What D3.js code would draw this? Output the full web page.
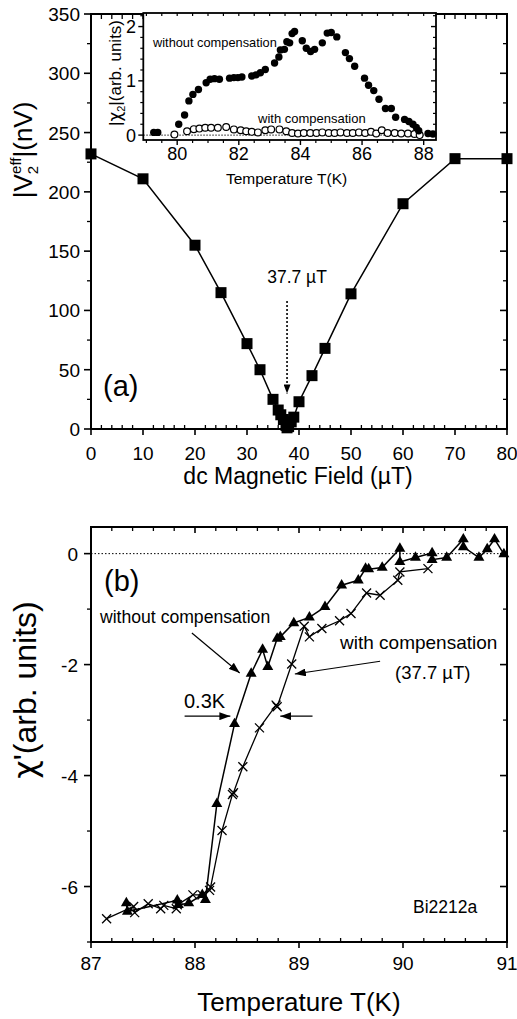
<!DOCTYPE html>
<html><head><meta charset="utf-8">
<script src="https://cdn.jsdelivr.net/npm/d3@7"></script>
<style>body{margin:0;background:#fff}svg{display:block;font-family:"Liberation Sans",Arial,Helvetica,sans-serif}</style>
</head><body><svg id="c" width="517" height="1019"></svg>
<script>
// ---------- DATA ----------
// panel (a): |V2eff| vs dc field
const fieldA = [0,10,20,25,30,32.5,35,36,36.5,37,37.5,37.7,38,38.5,39,40,42.5,45,50,60,70,80];
const v2A    = [232,211,155,115,72,50,25,16,12,8,3,1,2,6,10,23,45,68,114,190,228,228];
const xTicksA = [0,10,20,30,40,50,60,70,80];
const yTicksA = [0,50,100,150,200,250,300,350];
// inset: |chi2| vs T
const insetT_without = [79.24,79.37,80.05,80.24,80.38,80.51,80.69,80.94,81.07,81.21,81.37,81.7,81.84,81.97,82.1,82.42,82.56,82.7,82.86,83.16,83.3,83.35,83.48,83.56,83.65,83.73,83.81,84.06,84.19,84.33,84.46,84.71,84.87,85.0,85.18,85.46,85.59,85.76,86.08,86.21,86.38,86.55,86.76,86.95,87.09,87.38,87.52,87.65,87.76,87.84,88.14,88.3];
const insetV_without = [0.05,0.05,0.2,0.37,0.63,0.75,0.84,0.965,1.03,1.04,1.03,1.05,1.06,1.06,1.07,1.09,1.11,1.15,1.21,1.33,1.44,1.57,1.58,1.72,1.70,1.87,1.91,1.74,1.60,1.54,1.58,1.70,1.88,1.89,1.81,1.52,1.41,1.27,1.05,0.92,0.82,0.66,0.49,0.49,0.33,0.29,0.25,0.20,0.14,0.08,0.03,0.02];
const insetT_with = [79.91,80.32,80.54,80.72,80.91,81.1,81.32,81.59,81.84,82.06,82.24,82.42,82.62,82.86,83.05,83.32,83.54,83.73,83.92,84.11,84.32,84.52,84.71,84.92,85.11,85.3,85.51,85.7,85.9,86.1,86.29,86.46,86.64,86.83,87.06,87.27,87.49,87.7,87.87];
const insetV_with = [0.01,0.07,0.11,0.12,0.135,0.135,0.135,0.15,0.105,0.09,0.07,0.06,0.05,0.09,0.105,0.105,0.07,0.04,0.03,0.04,0.04,0.04,0.05,0.04,0.04,0.05,0.04,0.04,0.05,0.04,0.06,0.03,0.09,0.04,0.04,0.03,0.03,0.02,0.0];
const xTicksInset = [80,82,84,86,88];
const yTicksInset = [0,1,2];
// panel (b): chi' vs T
const tB_without = [87.34,87.35,87.83,87.84,87.94,88.07,88.10,88.21,88.38,88.54,88.65,88.70,88.79,88.82,88.95,89.10,89.25,89.41,89.57,89.64,89.67,89.80,89.97,89.97,90.12,90.28,90.28,90.42,90.58,90.58,90.73,90.81,90.88,90.97];
const cB_without = [-6.30,-6.45,-6.25,-6.33,-6.30,-6.15,-6.24,-4.51,-3.07,-2.16,-1.73,-2.04,-1.53,-1.50,-1.25,-1.15,-0.96,-0.57,-0.48,-0.27,-0.28,-0.25,0.09,-0.15,-0.07,0.01,-0.11,-0.07,0.26,0.12,-0.07,0.08,0.26,-0.01];
const tB_with = [87.15,87.41,87.42,87.55,87.67,87.70,87.82,87.83,87.98,88.07,88.14,88.15,88.26,88.36,88.37,88.46,88.62,88.78,88.79,88.93,89.05,89.10,89.22,89.39,89.50,89.65,89.78,89.95,89.97,90.24];
const cB_with = [-6.58,-6.36,-6.47,-6.31,-6.40,-6.34,-6.40,-6.33,-6.15,-6.15,-6.07,-6.01,-4.99,-4.34,-4.31,-3.84,-3.14,-2.73,-2.76,-1.99,-1.31,-1.50,-1.35,-1.21,-1.08,-0.71,-0.75,-0.48,-0.33,-0.27];
const xTicksB = [87,88,89,90,91];
const yTicksB = [-6,-4,-2,0];

// ---------- DRAW ----------
const svg = d3.select("#c");
const defs = svg.append("defs");
defs.append("marker").attr("id","ah").attr("markerUnits","userSpaceOnUse")
  .attr("markerWidth",11).attr("markerHeight",8).attr("refX",11).attr("refY",4).attr("orient","auto")
  .append("path").attr("d","M0,0 L11,4 L0,8 Z").attr("fill","#000");
defs.append("marker").attr("id","ahs").attr("markerUnits","userSpaceOnUse")
  .attr("markerWidth",9).attr("markerHeight",7).attr("refX",9).attr("refY",3.5).attr("orient","auto")
  .append("path").attr("d","M0,0 L9,3.5 L0,7 Z").attr("fill","#000");

function range(a,b,s){const r=[];for(let v=a;v<=b+1e-9;v+=s)r.push(+v.toFixed(6));return r;}

function tickLines(g, vals, pos, fixed, orient, len, w){
  vals.forEach(v=>{
    const p = pos(v);
    let x1,y1,x2,y2;
    if(orient==="h"){ x1=x2=p; y1=fixed; y2=fixed+len; }
    else { y1=y2=p; x1=fixed; x2=fixed+len; }
    g.append("line").attr("x1",x1).attr("x2",x2).attr("y1",y1).attr("y2",y2)
      .attr("stroke","#000").attr("stroke-width",w||1.3);
  });
}

// ===== Panel (a) =====
const xA = d3.scaleLinear().domain([0,80]).range([91,507]);
const yA = d3.scaleLinear().domain([0,350]).range([429,14]);
const gA = svg.append("g");
const minorXA = range(0,80,2).filter(v=>v%10!==0);
const minorYA = range(25,325,50);
tickLines(gA, xTicksA, xA, yA(0), "h", 6, 1.6);
tickLines(gA, minorXA, xA, yA(0), "h", -4, 1.3);
tickLines(gA, range(0,80,2), xA, yA(350), "h", 5, 1.3);
tickLines(gA, yTicksA, yA, xA(0), "v", -7, 1.6);
tickLines(gA, minorYA, yA, xA(0), "v", -4, 1.3);
tickLines(gA, yTicksA, yA, xA(80), "v", -7, 1.6);
tickLines(gA, minorYA, yA, xA(80), "v", -4, 1.3);
gA.append("rect").attr("x",xA(0)).attr("y",yA(350)).attr("width",xA(80)-xA(0)).attr("height",yA(0)-yA(350))
  .attr("fill","none").attr("stroke","#000").attr("stroke-width",2);
gA.selectAll(".xl").data(xTicksA).join("text").attr("x",d=>xA(d)).attr("y",460)
  .attr("text-anchor","middle").attr("font-size",19).text(d=>d);
gA.selectAll(".yl").data(yTicksA).join("text").attr("x",80).attr("y",d=>yA(d)+7)
  .attr("text-anchor","end").attr("font-size",19).text(d=>d);
const lineA = d3.line().x((d,i)=>xA(fieldA[i])).y((d,i)=>yA(v2A[i]));
gA.append("path").attr("d",lineA(fieldA)).attr("fill","none").attr("stroke","#000").attr("stroke-width",1.5);
gA.selectAll(".sq").data(fieldA).join("rect")
  .attr("x",(d,i)=>xA(d)-5.5).attr("y",(d,i)=>yA(v2A[i])-5.5).attr("width",11).attr("height",11).attr("fill","#000");
gA.append("line").attr("x1",xA(37.7)).attr("x2",xA(37.7)).attr("y1",yA(108)).attr("y2",yA(30))
  .attr("stroke","#000").attr("stroke-width",1.6).attr("stroke-dasharray","2,2").attr("marker-end","url(#ahs)");
gA.append("text").attr("x",xA(37.7)+10).attr("y",283).attr("text-anchor","middle").attr("font-size",17.5).text("37.7 \u00b5T");
gA.append("text").attr("x",103).attr("y",396).attr("font-size",29).text("(a)");
gA.append("text").attr("x",298).attr("y",484).attr("text-anchor","middle").attr("font-size",23).text("dc Magnetic Field (\u00b5T)");
const yla = gA.append("text").attr("transform","translate(32,150) rotate(-90)").attr("text-anchor","middle").attr("font-size",26);
yla.append("tspan").text("|V");
yla.append("tspan").attr("font-size",15).attr("dy",6).text("2");
yla.append("tspan").attr("font-size",15).attr("dx",-8).attr("dy",-17).text("eff");
yla.append("tspan").attr("dy",11).text("|(nV)");

// ===== Inset =====
const xI = d3.scaleLinear().domain([78.9,88.4]).range([143.3,436]);
const yI = d3.scaleLinear().domain([-0.09,2.25]).range([140,13]);
const gI = svg.append("g");
gI.append("rect").attr("x",xI(78.9)).attr("y",yI(2.25)).attr("width",xI(88.4)-xI(78.9)).attr("height",yI(-0.09)-yI(2.25))
  .attr("fill","#fff");
gI.append("line").attr("x1",xI(78.9)).attr("x2",xI(88.4)).attr("y1",yI(0)).attr("y2",yI(0))
  .attr("stroke","#000").attr("stroke-width",0.9).attr("stroke-dasharray","1.5,1.5");
const minorXI = range(79,88,0.5).filter(v=>v%2!==0);
const minorYI = range(0,2.2,0.2).filter(v=>Math.abs(v-Math.round(v))>1e-6);
tickLines(gI, xTicksInset, xI, yI(-0.09), "h", 5, 1.4);
tickLines(gI, minorXI, xI, yI(-0.09), "h", 3, 1.2);
tickLines(gI, range(79,88,0.5), xI, yI(2.25), "h", 3, 1.2);
tickLines(gI, yTicksInset, yI, xI(78.9), "v", -5, 1.4);
tickLines(gI, minorYI, yI, xI(78.9), "v", -3, 1.2);
tickLines(gI, yTicksInset, yI, xI(88.4), "v", -5, 1.4);
tickLines(gI, minorYI, yI, xI(88.4), "v", -3, 1.2);
gI.append("rect").attr("x",xI(78.9)).attr("y",yI(2.25)).attr("width",xI(88.4)-xI(78.9)).attr("height",yI(-0.09)-yI(2.25))
  .attr("fill","none").attr("stroke","#000").attr("stroke-width",1.8);
gI.selectAll(".ixl").data(xTicksInset).join("text").attr("x",d=>xI(d)).attr("y",160)
  .attr("text-anchor","middle").attr("font-size",18).text(d=>d);
gI.selectAll(".iyl").data(yTicksInset).join("text").attr("x",136).attr("y",d=>yI(d)+6.5)
  .attr("text-anchor","end").attr("font-size",18).text(d=>d);
gI.append("text").attr("x",xI(83.55)).attr("y",184).attr("text-anchor","middle").attr("font-size",15.5).text("Temperature T(K)");
const yli = gI.append("text").attr("transform","translate(121,73) rotate(-90)").attr("text-anchor","middle").attr("font-size",17);
yli.append("tspan").text("|");
yli.append("tspan").attr("font-family","'DejaVu Sans',sans-serif").text("\u03c7");
yli.append("tspan").attr("font-size",11).attr("dy",4).text("2");
yli.append("tspan").attr("dy",-4).text("|(arb. units)");
gI.selectAll(".op").data(insetT_with).join("circle").attr("cx",d=>xI(d)).attr("cy",(d,i)=>yI(insetV_with[i])).attr("r",3.4)
  .attr("fill","#fff").attr("stroke","#000").attr("stroke-width",1.2);
gI.selectAll(".fp").data(insetT_without).join("circle").attr("cx",d=>xI(d)).attr("cy",(d,i)=>yI(insetV_without[i])).attr("r",3.7)
  .attr("fill","#000");
gI.append("text").attr("x",153).attr("y",47).attr("font-size",12.8).text("without compensation");
gI.append("text").attr("x",258).attr("y",123).attr("font-size",13).text("with compensation");

// ===== Panel (b) =====
const xB = d3.scaleLinear().domain([87,91]).range([91,507]);
const yB = d3.scaleLinear().domain([-7,0.48]).range([942,527]);
const gB = svg.append("g");
const minorXB = range(87,91,0.2).filter(v=>Math.abs(v-Math.round(v))>1e-6);
const minorYB = [-7,-5,-3,-1];
tickLines(gB, xTicksB, xB, yB(-7), "h", 6, 1.6);
tickLines(gB, minorXB, xB, yB(-7), "h", -4, 1.3);
tickLines(gB, xTicksB, xB, yB(0.48), "h", 6, 1.6);
tickLines(gB, minorXB, xB, yB(0.48), "h", 4, 1.3);
tickLines(gB, yTicksB, yB, xB(87), "v", -7, 1.6);
tickLines(gB, minorYB, yB, xB(87), "v", -4, 1.3);
tickLines(gB, yTicksB, yB, xB(91), "v", -7, 1.6);
tickLines(gB, minorYB, yB, xB(91), "v", -4, 1.3);
gB.append("line").attr("x1",xB(87)).attr("x2",xB(91)).attr("y1",yB(0)).attr("y2",yB(0))
  .attr("stroke","#000").attr("stroke-width",1).attr("stroke-dasharray","1.5,2");
gB.append("rect").attr("x",xB(87)).attr("y",yB(0.48)).attr("width",xB(91)-xB(87)).attr("height",yB(-7)-yB(0.48))
  .attr("fill","none").attr("stroke","#000").attr("stroke-width",2);
gB.selectAll(".bxl").data(xTicksB).join("text").attr("x",d=>xB(d)).attr("y",970)
  .attr("text-anchor","middle").attr("font-size",19).text(d=>d);
gB.selectAll(".byl").data(yTicksB).join("text").attr("x",78).attr("y",d=>yB(d)+7)
  .attr("text-anchor","end").attr("font-size",19).text(d=>d);
const lineWith = d3.line().x((d,i)=>xB(tB_with[i])).y((d,i)=>yB(cB_with[i]));
const lineWithout = d3.line().x((d,i)=>xB(tB_without[i])).y((d,i)=>yB(cB_without[i]));
gB.append("path").attr("d",lineWith(tB_with)).attr("fill","none").attr("stroke","#000").attr("stroke-width",1.3);
gB.append("path").attr("d",lineWithout(tB_without)).attr("fill","none").attr("stroke","#000").attr("stroke-width",1.5);
gB.selectAll(".cx").data(tB_with).join("path")
  .attr("d",(d,i)=>{const x=xB(d),y=yB(cB_with[i]),s=4.5;return `M${x-s},${y-s}L${x+s},${y+s}M${x-s},${y+s}L${x+s},${y-s}`;})
  .attr("stroke","#000").attr("stroke-width",1.3).attr("fill","none");
const tri = d3.symbol().type(d3.symbolTriangle).size(52);
gB.selectAll(".tr").data(tB_without).join("path").attr("d",tri)
  .attr("transform",(d,i)=>`translate(${xB(d)},${yB(cB_without[i])})`).attr("fill","#000");
gB.append("text").attr("x",104).attr("y",591).attr("font-size",29).text("(b)");
gB.append("text").attr("x",100).attr("y",623).attr("font-size",17.6).text("without compensation");
gB.append("line").attr("x1",xB(87.97)).attr("y1",yB(-1.43)).attr("x2",xB(88.43)).attr("y2",yB(-2.15))
  .attr("stroke","#000").attr("stroke-width",1.2).attr("marker-end","url(#ah)");
gB.append("text").attr("x",340).attr("y",649).attr("font-size",19).text("with compensation");
gB.append("text").attr("x",395).attr("y",679).attr("font-size",18.5).text("(37.7 \u00b5T)");
gB.append("line").attr("x1",xB(89.78)).attr("y1",yB(-1.94)).attr("x2",xB(88.96)).attr("y2",yB(-2.17))
  .attr("stroke","#000").attr("stroke-width",1.2).attr("marker-end","url(#ah)");
gB.append("text").attr("x",184).attr("y",708).attr("font-size",20).text("0.3K");
gB.append("line").attr("x1",xB(87.9)).attr("y1",yB(-2.93)).attr("x2",xB(88.34)).attr("y2",yB(-2.93))
  .attr("stroke","#000").attr("stroke-width",1.2).attr("marker-end","url(#ah)");
gB.append("line").attr("x1",xB(89.13)).attr("y1",yB(-2.93)).attr("x2",xB(88.82)).attr("y2",yB(-2.93))
  .attr("stroke","#000").attr("stroke-width",1.2).attr("marker-end","url(#ah)");
gB.append("text").attr("x",413).attr("y",913).attr("font-size",17.5).text("Bi2212a");
gB.append("text").attr("x",299).attr("y",1011).attr("text-anchor","middle").attr("font-size",26).text("Temperature T(K)");
const ylb = gB.append("text").attr("transform","translate(36,690) rotate(-90)").attr("text-anchor","middle").attr("font-size",32);
ylb.append("tspan").attr("font-family","'DejaVu Sans',sans-serif").text("\u03c7");
ylb.append("tspan").text("'(arb. units)");
</script></body></html>
